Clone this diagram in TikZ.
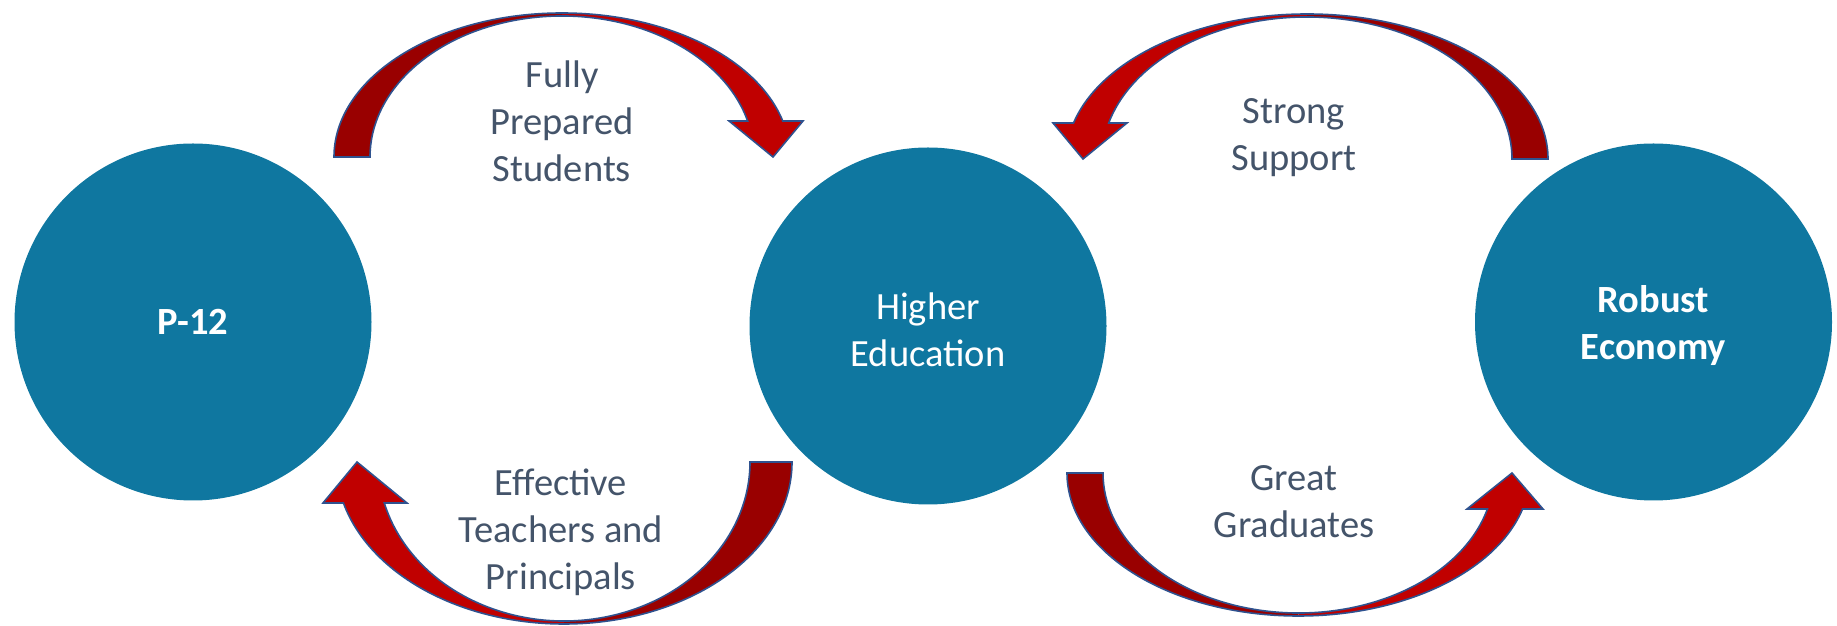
\documentclass[tikz,border=0pt]{standalone}
\usepackage{fontspec}
\setmainfont{Carlito}
\definecolor{circblue}{HTML}{0F77A0}
\definecolor{arrdark}{HTML}{990000}
\definecolor{arrbright}{HTML}{C00000}
\definecolor{arrline}{HTML}{2F528F}
\definecolor{lblgray}{HTML}{44546A}
% #1 scope options, #2 rx outer, #3 ry outer, #4 rx inner, #5 ry inner,
% #6 head base offset, #7 base inner x, #8 base outer x, #9 tip x
\newcommand\curvblockarrow[9]{%
  \begin{scope}[#1]
    \fill[arrdark] (180:#2 and #3) arc[start angle=180,end angle=90,x radius=#2,y radius=#3]
      -- (90:#4 and #5) arc[start angle=90,end angle=180,x radius=#4,y radius=#5] -- cycle;
    \fill[arrbright] (90:#2 and #3) arc[start angle=90,end angle={asin(#6/#3)},x radius=#2,y radius=#3]
      -- (#8,#6) -- (#9,0) -- (#7,#6)
      -- ({asin(#6/#5)}:#4 and #5) arc[start angle={asin(#6/#5)},end angle=90,x radius=#4,y radius=#5] -- cycle;
    \draw[arrowline] (180:#2 and #3) arc[start angle=180,end angle={asin(#6/#3)},x radius=#2,y radius=#3]
      -- (#8,#6) -- (#9,0) -- (#7,#6)
      -- ({asin(#6/#5)}:#4 and #5) arc[start angle={asin(#6/#5)},end angle=180,x radius=#4,y radius=#5] -- cycle;
  \end{scope}}
\begin{document}
\begin{tikzpicture}[x=1pt,y=1pt,
  circ/.style={circle,fill=circblue,minimum size=357pt,inner sep=0pt,text=white,align=center,
    font=\fontsize{38.5}{47}\selectfont},
  lbl/.style={text=lblgray,align=center,inner sep=0pt,font=\fontsize{38.5}{47}\selectfont},
  arrowline/.style={draw=arrline,line width=1.6pt,line join=miter}]
\useasboundingbox (0,0) rectangle (1837,626);
% circles
\node[circ,font=\fontsize{38.5}{47}\selectfont\bfseries] (p12) at (193,304) {P-12};
\node[circ] (he) at (928,300) {\rule{0pt}{35pt}Higher\\Education};
\node[circ,font=\fontsize{38.5}{47}\selectfont\bfseries] (re) at (1653.5,304) {\rule{0pt}{35pt}Robust\\Economy};
% curved block arrows
\curvblockarrow{shift={(562,469)}}{228}{144}{192}{141}{36}{167}{241}{211}
\curvblockarrow{shift={(1307,467)},xscale=-1}{241}{145}{205}{142}{36}{180}{254}{224}
\curvblockarrow{shift={(564,164)},xscale=-1,yscale=-1}{228}{162}{186}{159}{41}{157}{241}{207}
\curvblockarrow{shift={(1298.5,153)},yscale=-1}{231.5}{143}{195.5}{140}{36}{168.5}{244.5}{213.5}
% labels
\node[lbl] (l1) at (562,504.5) {Fully\\Prepared\\Students};
\node[lbl] (l2) at (561,94) {Effective\\Teachers and\\Principals};
\node[lbl] (l3) at (1294,488.5) {Strong\\Support};
\node[lbl] (l4) at (1294,124.5) {Great\\Graduates};
\end{tikzpicture}
\end{document}
